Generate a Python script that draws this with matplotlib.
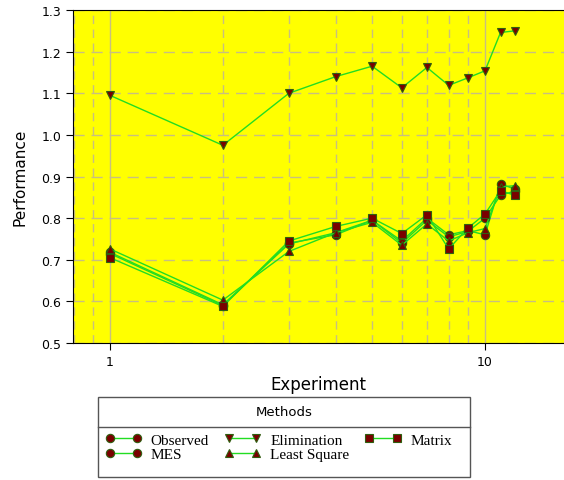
import matplotlib.pyplot as plt
from matplotlib.lines import Line2D
from matplotlib.patches import Rectangle
from matplotlib.ticker import LogLocator, NullFormatter, FixedLocator, FixedFormatter

# experiment numbers and performance of each method
experiment = [1, 2, 3, 4, 5, 6, 7, 8, 9, 10, 11, 12]
observed = [0.715, 0.590, 0.740, 0.760, 0.795, 0.745, 0.800, 0.760, 0.770, 0.760, 0.882, 0.870]
mes = [0.718, 0.592, 0.738, 0.765, 0.795, 0.740, 0.795, 0.755, 0.768, 0.800, 0.855, 0.865]
elimination = [1.095, 0.975, 1.100, 1.140, 1.165, 1.113, 1.162, 1.119, 1.137, 1.154, 1.246, 1.250]
least_square = [0.726, 0.603, 0.720, 0.765, 0.790, 0.735, 0.786, 0.745, 0.765, 0.775, 0.875, 0.878]
matrix = [0.705, 0.588, 0.745, 0.780, 0.800, 0.763, 0.808, 0.726, 0.776, 0.810, 0.866, 0.855]

names = ['Observed', 'MES', 'Elimination', 'Least Square', 'Matrix']
series = [observed, mes, elimination, least_square, matrix]
markers = ['o', 'o', 'v', '^', 's']

line_col = '#22dd22'
fill_col = '#7a0000'
edge_col = '#2f5f10'
grid_col = '#c8bf80'

fig = plt.figure(figsize=(5.64, 4.81), dpi=100)
ax = fig.add_axes([0.1294, 0.2848, 0.8706, 0.6923])
ax.set_facecolor('#ffff00')

handles = []
for name, vals, m in zip(names, series, markers):
    ax.plot(experiment, vals, color=line_col, lw=1.0, marker=m, ms=6,
            mfc=fill_col, mec=edge_col, mew=0.8, zorder=3)
    handles.append(Line2D([0], [0], color=line_col, lw=1.0, marker=m, ms=6,
                          mfc=fill_col, mec=edge_col, mew=0.8))

ax.set_xscale('log')
ax.set_xlim(0.797, 16.24)
ax.set_ylim(0.5, 1.3)
ax.set_yticks([0.5, 0.6, 0.7, 0.8, 0.9, 1.0, 1.1, 1.2, 1.3])
ax.yaxis.set_major_formatter(FixedFormatter(['0.5', '0.6', '0.7', '0.8', '0.9', '1.0', '1.1', '1.2', '1.3']))
ax.xaxis.set_major_locator(FixedLocator([1, 10]))
ax.xaxis.set_major_formatter(FixedFormatter(['1', '10']))
ax.xaxis.set_minor_locator(LogLocator(base=10, subs=range(2, 10)))
ax.xaxis.set_minor_formatter(NullFormatter())
ax.tick_params(axis='x', which='minor', length=0)
ax.tick_params(axis='both', which='major', labelsize=9, color='black', length=5)

ax.grid(True, which='major', axis='x', color=grid_col, lw=1.0, ls='-')
ax.grid(True, which='minor', axis='x', color=grid_col, lw=1.0, ls=(0, (6, 4)))
ax.grid(True, which='major', axis='y', color=grid_col, lw=1.0, ls=(0, (8, 5)))
ax.set_axisbelow(True)
ax.spines['right'].set_visible(False)

ax.set_xlabel('Experiment', fontsize=12, labelpad=5)
ax.set_ylabel('Performance', fontsize=11, labelpad=10)

# legend box with a title strip
W, H = 564, 481
x0, x1, ytop, ybot, ysep = 98, 470, 398, 478, 428
fig.patches.append(Rectangle((x0 / W, 1 - ybot / H), (x1 - x0) / W, (ybot - ytop) / H,
                             transform=fig.transFigure, fill=False, ec='#555555', lw=1.0))
fig.lines.append(Line2D([x0 / W, x1 / W], [1 - ysep / H, 1 - ysep / H],
                        transform=fig.transFigure, color='#555555', lw=1.0))
fig.text((x0 + x1) / 2 / W, 1 - 412 / H, 'Methods', ha='center', va='center', fontsize=9.5)
fig.legend(handles, names, ncol=3, loc='upper left', bbox_to_anchor=(105 / W, 1 - 434 / H),
           frameon=False, prop={'family': 'Liberation Serif', 'size': 11},
           numpoints=2, handlelength=2.4, handletextpad=0.6, columnspacing=1.0,
           labelspacing=0.05, borderaxespad=0, borderpad=0)

fig.savefig('out.png', dpi=100)
